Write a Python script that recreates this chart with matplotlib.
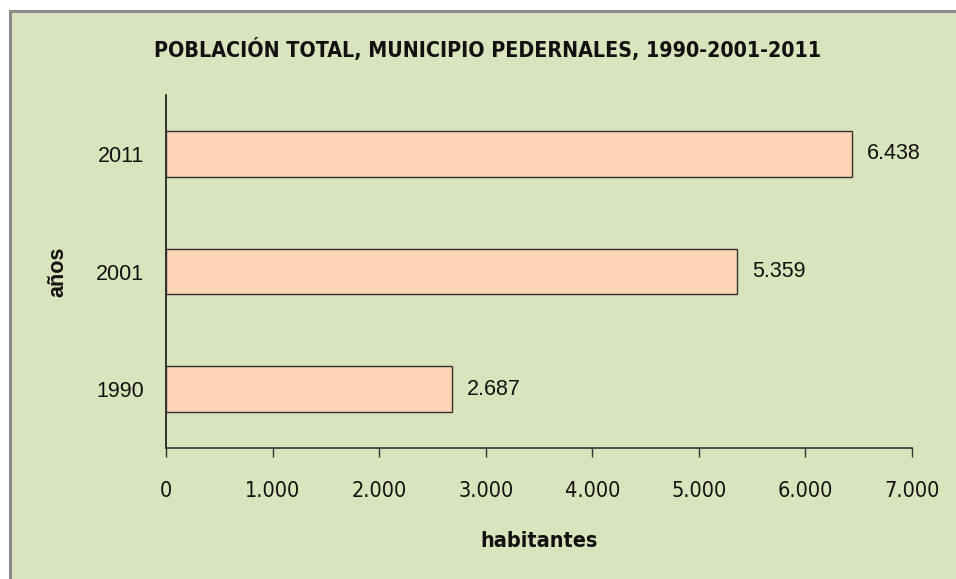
import matplotlib.pyplot as plt
from matplotlib.patches import Rectangle
from matplotlib.ticker import FuncFormatter

# Data
years = ['1990', '2001', '2011']
population = [2687, 5359, 6438]
x_ticks = [0, 1000, 2000, 3000, 4000, 5000, 6000, 7000]

title = 'POBLACIÓN TOTAL, MUNICIPIO PEDERNALES, 1990-2001-2011'

bg = '#d8e4bc'
bar_color = '#fcd5b4'
narrow = ['Liberation Sans Narrow', 'DejaVu Sans']
regular = ['Liberation Sans', 'DejaVu Sans']


def dotted(v):
    return f'{int(v):,}'.replace(',', '.')


fig = plt.figure(figsize=(9.56, 5.79), dpi=100)
fig.patch.set_facecolor('white')

# chart area frame (grey border on left/top)
frame = Rectangle((10 / 956, -0.1), 1.2, 1.1 - 11 / 579, transform=fig.transFigure,
                  facecolor=bg, edgecolor='#8c8c8c', linewidth=2.2, zorder=-5)
fig.patches.append(frame)

ax = fig.add_axes([166 / 956, 1 - 448 / 579, (912 - 166) / 956, (448 - 95) / 579])
ax.set_zorder(2)
ax.patch.set_alpha(0)

pos = list(range(len(years)))
ax.barh(pos, population, height=0.39, color=bar_color, edgecolor='#333333', linewidth=1.0, zorder=3)

for p, v in zip(pos, population):
    ax.text(v + 140, p, dotted(v), va='center', ha='left', fontsize=15.5,
            family=regular, color='#111111')

ax.set_xlim(0, 7000)
ax.set_ylim(-0.5, 2.5)
ax.set_xticks(x_ticks)
ax.xaxis.set_major_formatter(FuncFormatter(lambda v, _: dotted(v)))
ax.set_yticks(pos)
ax.set_yticklabels(years, family=regular, fontsize=15.5)

for lbl in ax.get_xticklabels():
    lbl.set_family(narrow)
    lbl.set_stretch('condensed')
    lbl.set_fontsize(15.5)

ax.tick_params(axis='x', direction='out', length=6.5, width=1.0, pad=17, colors='#333333',
               labelcolor='#111111')
ax.tick_params(axis='y', length=0, pad=16, labelcolor='#111111')

for s in ['top', 'right']:
    ax.spines[s].set_visible(False)
ax.spines['left'].set_color('#111111')
ax.spines['bottom'].set_color('#333333')
ax.spines['left'].set_linewidth(1.2)
ax.spines['bottom'].set_linewidth(1.2)

fig.text(487 / 956, 1 - 50 / 579, title, ha='center', va='center', fontsize=15.3,
         fontweight='bold', family=narrow, stretch='condensed', color='#111111')
fig.text((166 + 912) / 2 / 956, 1 - 541 / 579, 'habitantes', ha='center', va='center',
         fontsize=15.5, fontweight='bold', family=narrow, stretch='condensed', color='#111111')
fig.text(58 / 956, 1 - 272 / 579, 'años', ha='center', va='center', rotation=90,
         fontsize=15.5, fontweight='bold', family=regular, color='#111111')

plt.savefig('out.png', dpi=100, facecolor=fig.get_facecolor())
